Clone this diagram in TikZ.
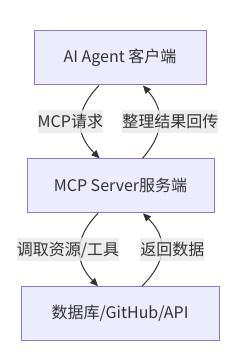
\documentclass[tikz,border=0pt]{standalone}
\usepackage{fontspec}
\setmainfont{Noto Sans CJK SC}
\usetikzlibrary{arrows.meta}
\definecolor{boxfill}{HTML}{ECECFF}
\definecolor{boxline}{HTML}{9370DB}
\definecolor{ink}{HTML}{333333}
\definecolor{lblfill}{HTML}{E8E8E8}

\begin{document}
\begin{tikzpicture}[x=1pt,y=1pt,
    box/.style={draw=boxline,fill=boxfill,line width=1pt,text=ink,minimum height=54pt,inner sep=0pt,font=\fontsize{16}{19}\selectfont},
    flow/.style={draw=ink,line width=1pt,-{Triangle[length=8pt,width=7pt]}},
    lbl/.style={fill=lblfill,fill opacity=0.8,text opacity=1,text=ink,inner xsep=0pt,inner ysep=0pt,minimum height=23pt,font=\fontsize{16}{19}\selectfont}]
    \useasboundingbox (0,0) rectangle (250,354);
    \node[box,minimum width=172pt] (agent) at (120,296) {AI Agent 客户端};
    \node[box,minimum width=187pt] (server) at (120.5,168.2) {MCP Server服务端};
    \node[box,minimum width=198pt] (source) at (120,40.3) {数据库/GitHub/API};
    \draw[flow] ([xshift=-21pt]agent.south) .. controls +(-24,-25) and +(-25,25) .. node[lbl,xshift=-10.5pt]{MCP请求} ([xshift=-21pt]server.north);
    \draw[flow] ([xshift=22pt]server.north) .. controls +(22,25) and +(22,-25) .. node[lbl,xshift=11pt]{整理结果回传} ([xshift=23pt]agent.south);
    \draw[flow] ([xshift=-22.5pt]server.south) .. controls +(-24,-25) and +(-24,25) .. node[lbl,xshift=-12pt]{调取资源/工具} ([xshift=-22pt]source.north);
    \draw[flow] ([xshift=22pt]source.north) .. controls +(25,25) and +(25,-25) .. node[lbl,xshift=11pt]{返回数据} ([xshift=22.5pt]server.south);
\end{tikzpicture}
\end{document}
